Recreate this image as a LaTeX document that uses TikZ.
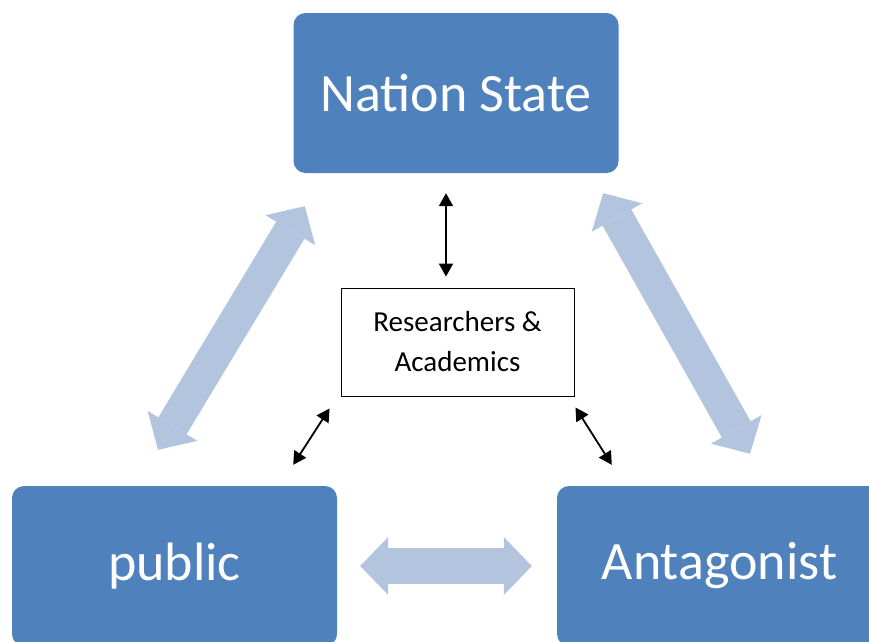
\documentclass[tikz,border=0pt]{standalone}
\usepackage{fontspec}
\setmainfont{Carlito}
\usetikzlibrary{arrows.meta}

\definecolor{darkblue}{HTML}{4F81BD}
\definecolor{paleblue}{HTML}{B3C4DE}

\begin{document}
\begin{tikzpicture}[x=1pt, y=-1pt,
  actor/.style = {rounded corners=12pt, fill=darkblue, text=white,
                  minimum width=325pt, minimum height=160pt,
                  font=\fontsize{54}{60}\selectfont},
  group/.style = {draw, line width=0.9pt, minimum width=233pt, minimum height=108pt,
                  align=center, font=\fontsize{29}{40}\selectfont},
  bigarrow/.style = {draw=paleblue, line width=33pt,
                  {Triangle[length=28pt,width=58pt,line width=0pt]}-{Triangle[length=28pt,width=58pt,line width=0pt]}},
  link/.style = {line width=1.8pt,
                  {Triangle[length=13pt,width=14pt]}-{Triangle[length=13pt,width=14pt]}}]

\clip (0,0) rectangle (869,641);

\node[actor] (nation) at (456,93) {Nation State};
\node[actor] (public) at (174.5,566) {public};
\node[actor] (antag) at (719.5,566) {Antagonist};
\node[group] (research) at (457.5,342) {Researchers \&\\Academics};

\draw[bigarrow] ([shift={(-16.5,-36)}]public.north) -- ([shift={(11.5,33)}]nation.south west);
\draw[bigarrow] ([shift={(-15.5,20)}]nation.south east) -- ([shift={(30.5,-32)}]antag.north);
\draw[bigarrow, line width=36pt] ([xshift=23pt]public.east) -- ([xshift=-25pt]antag.west);

\draw[link] ([shift={(-10,20)}]nation.south) -- ([shift={(-11.5,-11)}]research.north);
\draw[link] ([shift={(-11,12)}]research.south west) -- ([shift={(-44,-21)}]public.north east);
\draw[link] ([shift={(1,11)}]research.south east) -- ([shift={(55,-21)}]antag.north west);

\end{tikzpicture}
\end{document}
